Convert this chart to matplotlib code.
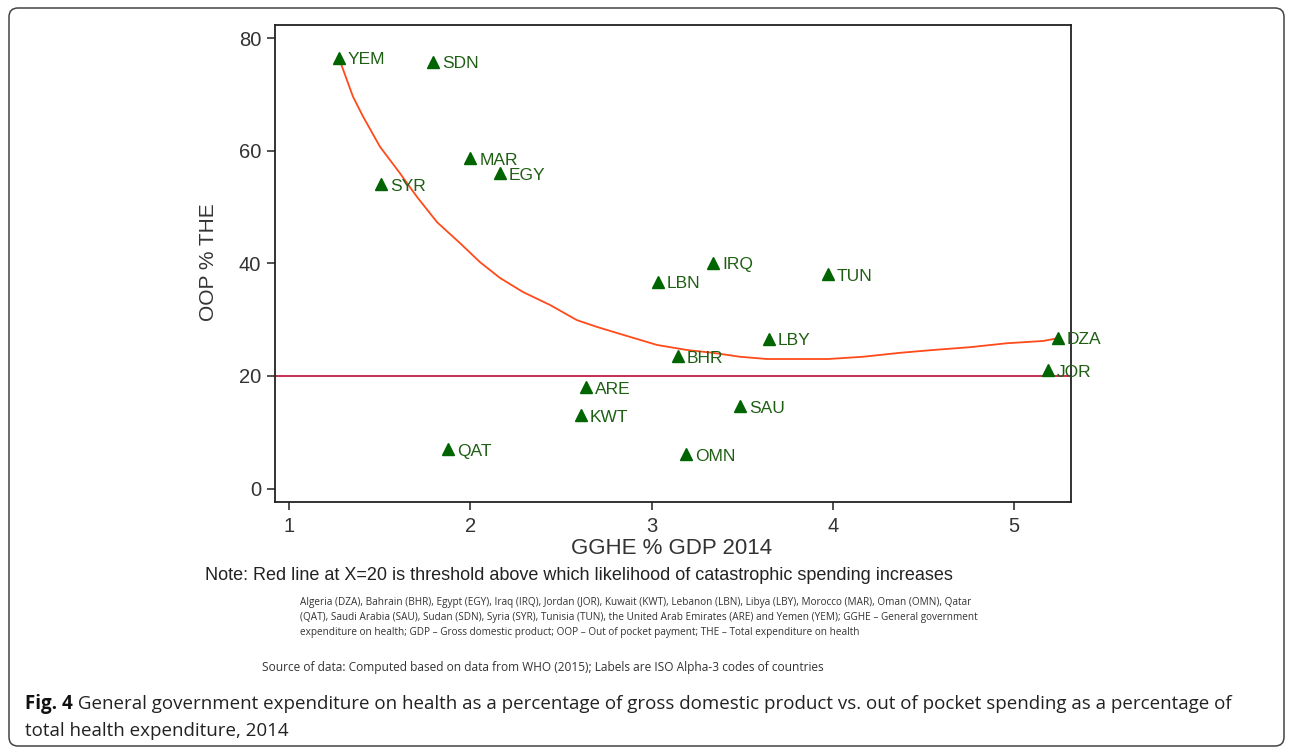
import matplotlib
matplotlib.use("Agg")
import matplotlib.pyplot as plt
from matplotlib.patches import FancyBboxPatch
from matplotlib.transforms import IdentityTransform

# GGHE as % of GDP vs OOP as % of THE, 2014
countries = ["YEM", "SDN", "MAR", "EGY", "SYR", "LBN", "IRQ", "TUN", "LBY",
             "BHR", "DZA", "JOR", "ARE", "KWT", "SAU", "QAT", "OMN"]
gghe = [1.276, 1.794, 2.000, 2.164, 1.508, 3.036, 3.339, 3.974, 3.648,
        3.146, 5.243, 5.188, 2.639, 2.611, 3.488, 1.877, 3.190]
oop = [76.5, 75.8, 58.7, 56.0, 54.1, 36.7, 40.1, 38.1, 26.6,
       23.5, 26.8, 21.0, 18.0, 13.0, 14.6, 7.0, 6.1]

# fitted curve
fit_x = [1.276, 1.353, 1.408, 1.502, 1.612, 1.706, 1.817, 1.943, 2.054, 2.164,
         2.291, 2.440, 2.589, 2.699, 2.843, 3.030, 3.196, 3.339, 3.488, 3.637,
         3.974, 4.167, 4.371, 4.553, 4.757, 4.961, 5.160, 5.243]
fit_y = [76.4, 69.6, 66.1, 60.7, 56.0, 51.8, 47.3, 43.6, 40.2, 37.4,
         34.9, 32.6, 29.9, 28.7, 27.3, 25.5, 24.6, 24.1, 23.4, 23.0,
         23.0, 23.4, 24.1, 24.6, 25.1, 25.8, 26.2, 26.7]

threshold = 20
xticks = [1, 2, 3, 4, 5]
yticks = [0, 20, 40, 60, 80]

note = "Note: Red line at X=20 is threshold above which likelihood of catastrophic spending increases"
abbrev = [
    "Algeria (DZA), Bahrain (BHR), Egypt (EGY), Iraq (IRQ), Jordan (JOR), Kuwait (KWT), Lebanon (LBN), Libya (LBY), Morocco (MAR), Oman (OMN), Qatar",
    "(QAT), Saudi Arabia (SAU), Sudan (SDN), Syria (SYR), Tunisia (TUN), the United Arab Emirates (ARE) and Yemen (YEM); GGHE \u2013 General government",
    "expenditure on health; GDP \u2013 Gross domestic product; OOP \u2013 Out of pocket payment; THE \u2013 Total expenditure on health",
]
source = "Source of data: Computed based on data from WHO (2015); Labels are ISO Alpha-3 codes of countries"
cap_bold = "Fig. 4"
cap_lines = [
    " General government expenditure on health as a percentage of gross domestic product vs. out of pocket spending as a percentage of",
    "total health expenditure, 2014",
]

W, H = 1293, 751
plt.rcParams["font.family"] = ["Liberation Sans", "DejaVu Sans"]
body = ["Open Sans", "DejaVu Sans"]


def px(x, y):
    return x / W, 1 - y / H


fig = plt.figure(figsize=(W / 100, H / 100), dpi=100)
renderer = fig.canvas.get_renderer()


def fit(texts, target):
    # scale a group of texts so that the widest spans target pixels
    for _ in range(3):
        w = max(t.get_window_extent(renderer).width for t in texts)
        for t in texts:
            t.set_fontsize(t.get_fontsize() * target / w)


# rounded frame around the whole figure
frame = FancyBboxPatch((9, 5), W - 18, H - 13, boxstyle="round,pad=0,rounding_size=9",
                       transform=IdentityTransform(), fill=False, ec="#444444", lw=1.1)
fig.patches.append(frame)

ax = fig.add_axes([275 / W, 1 - 502 / H, (1071 - 275) / W, (502 - 25) / H])
ax.set_xlim(1 + (275 - 289) / 181.25, 1 + (1071 - 289) / 181.25)
ax.set_ylim((488.5 - 502) / 5.63, (488.5 - 25) / 5.63)

ax.plot(fit_x, fit_y, color="#ff4a1a", lw=1.3, zorder=2)
ax.axhline(threshold, color="#c21c44", lw=1.3, zorder=2)
ax.plot(gghe, oop, ls="none", marker="^", ms=8, color="#006400", zorder=3)
for c, x, y in zip(countries, gghe, oop):
    ax.annotate(c, (x, y), xytext=(6.5, -1.5), textcoords="offset points",
                ha="left", va="center", fontsize=12.5, color="#1f5f14")

ax.set_xticks(xticks)
ax.set_yticks(yticks)
ax.tick_params(direction="out", length=6, width=1.1, colors="#222222",
               labelsize=14.5, labelcolor="#333333")
ax.tick_params(axis="x", pad=5)
ax.tick_params(axis="y", pad=4)
for s in ax.spines.values():
    s.set_linewidth(1.3)
    s.set_color("#222222")

fig.text(*px(208, 262), "OOP % THE", rotation=90, ha="center", va="center",
         fontsize=15, color="#333333")
fig.text(*px(672, 548), "GGHE % GDP 2014", ha="center", va="center",
         fontsize=16, color="#333333")

t = fig.text(*px(205, 576), note, ha="left", va="center", fontsize=12.3, color="#222222")
fit([t], 745)

lines = [fig.text(*px(300, 603 + 14.5 * i), s, ha="left", va="center",
                  fontsize=7, color="#333333", family=body)
         for i, s in enumerate(abbrev)]
fit(lines[:1], 668)
for l in lines[1:]:
    l.set_fontsize(lines[0].get_fontsize())

t = fig.text(*px(262, 668), source, ha="left", va="center", fontsize=8.5,
             color="#333333", family=body)
fit([t], 560)

# caption: bold figure number followed by regular text
b = fig.text(*px(25, 704), cap_bold, ha="left", va="center", fontsize=13,
             fontweight="bold", color="#111111", family=body)
r = fig.text(*px(100, 704), cap_lines[0], ha="left", va="center", fontsize=13,
             color="#222222", family=body)
r2 = fig.text(*px(25, 731), cap_lines[1], ha="left", va="center", fontsize=13,
              color="#222222", family=body)
for _ in range(3):
    r.set_x(b.get_window_extent(renderer).x1 / W)
    total = r.get_window_extent(renderer).x1 - 25
    for t in (b, r, r2):
        t.set_fontsize(t.get_fontsize() * 1208 / total)
r.set_x(b.get_window_extent(renderer).x1 / W)

fig.savefig("out.png", dpi=100)
